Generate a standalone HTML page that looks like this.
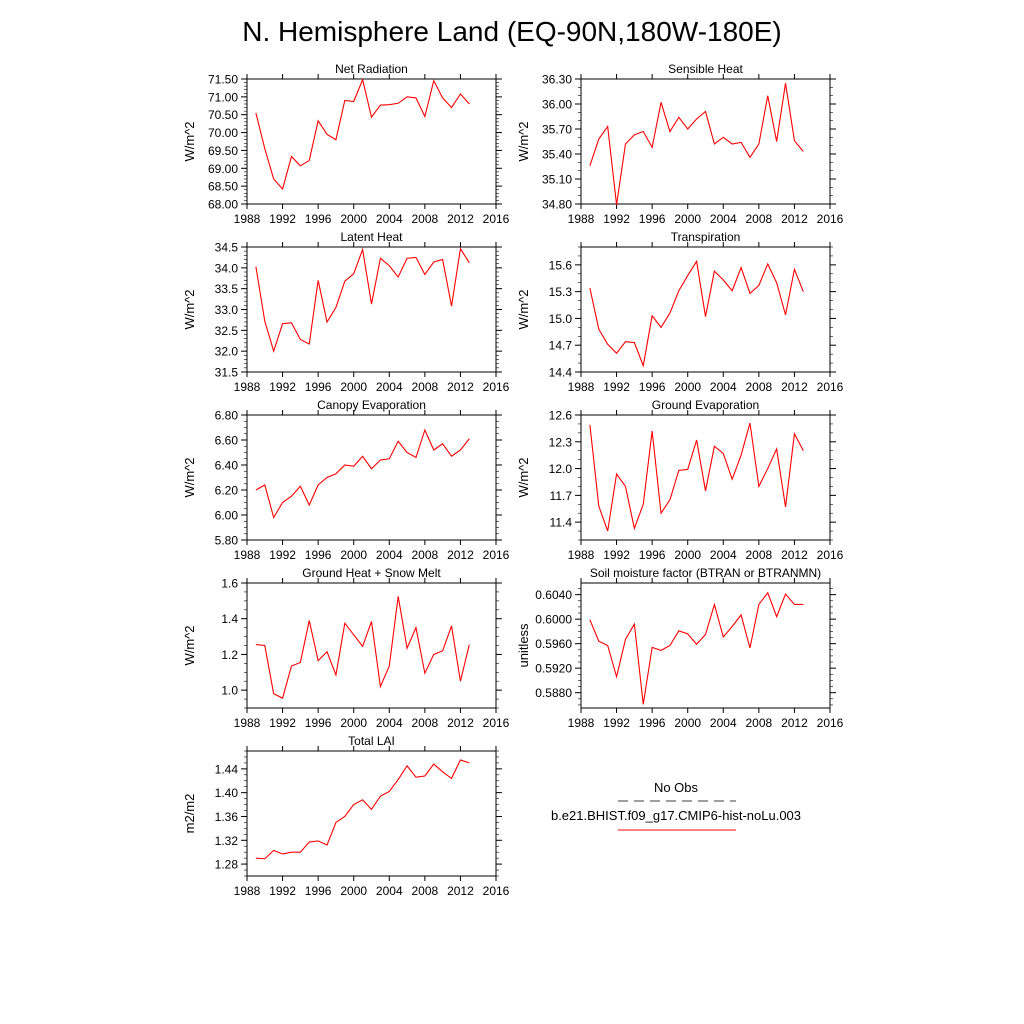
<!DOCTYPE html>
<html><head><meta charset="utf-8"><style>
body{margin:0;background:#fff;}
svg{display:block;font-family:"Liberation Sans",sans-serif;}
</style></head><body>
<svg id="fig" width="1024" height="1024" xmlns="http://www.w3.org/2000/svg">
<rect width="1024" height="1024" fill="#fff"/>
<text x="512" y="41" font-size="28" text-anchor="middle">N. Hemisphere Land (EQ-90N,180W-180E)</text>
<g id="panels"></g>
<g>
<text x="676" y="792" font-size="13" text-anchor="middle">No Obs</text>
<line x1="618" y1="801" x2="736" y2="801" stroke="#000" stroke-dasharray="10,6" stroke-width="0.8"/>
<text x="676" y="820" font-size="13" text-anchor="middle">b.e21.BHIST.f09_g17.CMIP6-hist-noLu.003</text>
<line x1="618" y1="830" x2="736" y2="830" stroke="red" stroke-width="1"/>
</g>
</svg>
<script>
const years=[1989,1990,1991,1992,1993,1994,1995,1996,1997,1998,1999,2000,2001,2002,2003,2004,2005,2006,2007,2008,2009,2010,2011,2012,2013];
const xTicks=[1988,1992,1996,2000,2004,2008,2012,2016];
const netRad=[70.55,69.55,68.7,68.42,69.33,69.07,69.22,70.33,69.95,69.8,70.9,70.87,71.48,70.43,70.77,70.78,70.82,71.0,70.97,70.45,71.45,70.97,70.7,71.08,70.8];
const sensible=[35.26,35.58,35.73,34.79,35.52,35.63,35.67,35.48,36.02,35.67,35.84,35.70,35.82,35.91,35.52,35.60,35.52,35.54,35.36,35.52,36.10,35.55,36.25,35.56,35.43];
const latent=[34.03,32.72,32.0,32.66,32.68,32.28,32.17,33.7,32.7,33.05,33.68,33.86,34.44,33.13,34.23,34.05,33.78,34.23,34.25,33.84,34.14,34.2,33.08,34.46,34.12];
const transp=[15.34,14.88,14.71,14.61,14.74,14.73,14.47,15.03,14.90,15.06,15.31,15.48,15.64,15.02,15.53,15.43,15.31,15.57,15.28,15.37,15.61,15.40,15.04,15.55,15.30];
const canopy=[6.20,6.24,5.98,6.10,6.15,6.23,6.08,6.24,6.30,6.33,6.40,6.39,6.47,6.37,6.44,6.45,6.59,6.50,6.46,6.68,6.52,6.57,6.47,6.52,6.61];
const groundEvap=[12.49,11.58,11.30,11.94,11.80,11.33,11.60,12.42,11.50,11.65,11.98,11.99,12.32,11.75,12.25,12.17,11.88,12.15,12.51,11.80,12.00,12.22,11.57,12.39,12.20];
const groundHeat=[1.255,1.25,0.98,0.955,1.135,1.155,1.39,1.165,1.215,1.085,1.375,1.31,1.245,1.385,1.02,1.135,1.525,1.235,1.35,1.095,1.20,1.22,1.36,1.05,1.255];
const soil=[0.5999,0.5964,0.5957,0.5906,0.5967,0.5992,0.5861,0.5954,0.5949,0.5957,0.5981,0.5976,0.5959,0.5975,0.6024,0.5971,0.5988,0.6007,0.5953,0.6024,0.6043,0.6004,0.6041,0.6024,0.6024];
const lai=[1.290,1.289,1.303,1.297,1.300,1.300,1.317,1.319,1.312,1.350,1.360,1.380,1.388,1.372,1.394,1.402,1.422,1.445,1.426,1.428,1.448,1.435,1.424,1.455,1.450];
const netRadTicks=[68.0,68.5,69.0,69.5,70.0,70.5,71.0,71.5];
const sensTicks=[34.8,35.1,35.4,35.7,36.0,36.3];
const latTicks=[31.5,32.0,32.5,33.0,33.5,34.0,34.5];
const transTicks=[14.4,14.7,15.0,15.3,15.6];
const canTicks=[5.8,6.0,6.2,6.4,6.6,6.8];
const gevTicks=[11.4,11.7,12.0,12.3,12.6];
const ghTicks=[1.0,1.2,1.4,1.6];
const soilTicks=[0.588,0.592,0.596,0.600,0.604];
const laiTicks=[1.28,1.32,1.36,1.40,1.44];

const NS='http://www.w3.org/2000/svg';
const root=document.getElementById('panels');
function mk(tag,attrs,parent){const e=document.createElementNS(NS,tag);for(const k in attrs)e.setAttribute(k,attrs[k]);parent.appendChild(e);return e;}
const panels=[
 {name:'net-radiation',title:'Net Radiation',unit:'W/m^2',x:247,y:79,ys:netRad,min:68,max:71.5,ticks:netRadTicks,dec:2,minor:5},
 {name:'sensible-heat',title:'Sensible Heat',unit:'W/m^2',x:581,y:79,ys:sensible,min:34.8,max:36.3,ticks:sensTicks,dec:2,minor:3},
 {name:'latent-heat',title:'Latent Heat',unit:'W/m^2',x:247,y:247,ys:latent,min:31.5,max:34.5,ticks:latTicks,dec:1,minor:5},
 {name:'transpiration',title:'Transpiration',unit:'W/m^2',x:581,y:247,ys:transp,min:14.4,max:15.8,ticks:transTicks,dec:1,minor:3},
 {name:'canopy-evaporation',title:'Canopy Evaporation',unit:'W/m^2',x:247,y:415,ys:canopy,min:5.8,max:6.8,ticks:canTicks,dec:2,minor:4},
 {name:'ground-evaporation',title:'Ground Evaporation',unit:'W/m^2',x:581,y:415,ys:groundEvap,min:11.2,max:12.6,ticks:gevTicks,dec:1,minor:3},
 {name:'ground-heat-snow-melt',title:'Ground Heat + Snow Melt',unit:'W/m^2',x:247,y:583,ys:groundHeat,min:0.9,max:1.6,ticks:ghTicks,dec:1,minor:4},
 {name:'soil-moisture-factor',title:'Soil moisture factor (BTRAN or BTRANMN)',unit:'unitless',x:581,y:583,ys:soil,min:0.5855,max:0.6059,ticks:soilTicks,dec:4,minor:4},
 {name:'total-lai',title:'Total LAI',unit:'m2/m2',x:247,y:751,ys:lai,min:1.26,max:1.47,ticks:laiTicks,dec:2,minor:4}
];
const W=249,H=125;
panels.forEach(p=>{
 const g=mk('g',{},root);
 
 
 const sx=v=>p.x+(v-1988)/28*W;
 const sy=v=>p.y+H-(v-p.min)/(p.max-p.min)*H;
 const t=mk('text',{x:p.x+W/2,y:p.y-6,'font-size':12,'text-anchor':'middle'},g);t.textContent=p.title;
 
 
 const yt=mk('text',{'font-size':13,'text-anchor':'middle',transform:`translate(${p.x-53},${p.y+H/2}) rotate(-90)`},g);yt.textContent=p.unit;
 
 
 // x ticks
 xTicks.forEach(v=>{
  const X=sx(v);
  mk('line',{x1:X,x2:X,y1:p.y+H,y2:p.y+H+5,stroke:'#000'},g);
  mk('line',{x1:X,x2:X,y1:p.y,y2:p.y-5,stroke:'#000'},g);
  const l=mk('text',{x:X,y:p.y+H+19,'font-size':12,'text-anchor':'middle'},g);l.textContent=v;
  
  
 });
 // y ticks
 const step=p.ticks[1]-p.ticks[0];
 for(let v=p.ticks[0]-step;v<=p.max+1e-9;v+=step/p.minor){
  if(v<p.min-1e-9)continue;
  const Y=sy(v);
  mk('line',{x1:p.x,x2:p.x-3,y1:Y,y2:Y,stroke:'#000','stroke-width':0.6},g);
  mk('line',{x1:p.x+W,x2:p.x+W+3,y1:Y,y2:Y,stroke:'#000','stroke-width':0.6},g);
 }
 p.ticks.forEach(v=>{
  const Y=sy(v);
  mk('line',{x1:p.x,x2:p.x-6,y1:Y,y2:Y,stroke:'#000'},g);
  mk('line',{x1:p.x+W,x2:p.x+W+6,y1:Y,y2:Y,stroke:'#000'},g);
  const l=mk('text',{x:p.x-9,y:Y+4.5,'font-size':12,'text-anchor':'end'},g);l.textContent=v.toFixed(p.dec);
  
  
 });
 mk('rect',{x:p.x,y:p.y,width:W,height:H,fill:'none',stroke:'#000','stroke-width':1},g);
 const pts=years.map((yr,i)=>sx(yr)+','+sy(p.ys[i])).join(' ');
 const pl=mk('polyline',{points:pts,fill:'none',stroke:'red','stroke-width':1.1},g);
 
 
});
</script>
</body></html>
